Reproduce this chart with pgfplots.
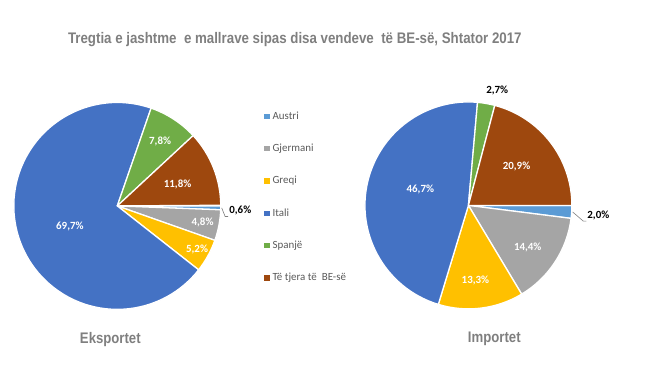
\documentclass[border=0pt]{standalone}
\usepackage{fontspec}
\setmainfont{Carlito}
\newfontfamily\arialf{Liberation Sans}
\usepackage{graphicx}
\usepackage{pgfplots}
\pgfplotsset{compat=1.18}
\usepackage{pgfplotstable}

\definecolor{cAustri}{HTML}{5B9BD5}
\definecolor{cGjer}{HTML}{A5A5A5}
\definecolor{cGreqi}{HTML}{FFC000}
\definecolor{cItali}{HTML}{4472C4}
\definecolor{cSpanje}{HTML}{70AD47}
\definecolor{cTjera}{HTML}{9E480E}
\definecolor{cTitle}{HTML}{7F7F7F}
\definecolor{cLegend}{HTML}{595959}
\definecolor{cLead}{HTML}{7F7F7F}

% val = share (%), lr = label radius (fraction of r), lo = label angle offset, lc = label colour, ld = leader line
\pgfplotstableread{
name val col lr lo lc ld
Austri 0.6 cAustri 1.19 -1.2 black 1
Gjermani 4.8 cGjer 0.84 -0.4 white 0
Greqi 5.2 cGreqi 0.88 0 white 0
Itali 69.7 cItali 0.50 7.2 white 0
Spanje 7.8 cSpanje 0.75 -0.4 white 0
Tjera 11.8 cTjera 0.62 -1.6 white 0
}\exporttab

\pgfplotstableread{
name val col lr lo lc ld
Austri 2.0 cAustri 1.26 -0.8 black 1
Gjermani 14.4 cGjer 0.70 -1.9 white 0
Greqi 13.3 cGreqi 0.73 -1.7 white 0
Itali 46.7 cItali 0.49 -7.4 white 0
Spanje 2.7 cSpanje 1.15 -4.1 black 0
Tjera 20.9 cTjera 0.60 1.6 white 0
}\importtab

\newcommand\getrow[2]{% row, table
  \pgfplotstablegetelem{#1}{val}\of{#2}\let\sv\pgfplotsretval
  \pgfplotstablegetelem{#1}{col}\of{#2}\let\sc\pgfplotsretval
  \pgfplotstablegetelem{#1}{lr}\of{#2}\let\slr\pgfplotsretval
  \pgfplotstablegetelem{#1}{lo}\of{#2}\let\slo\pgfplotsretval
  \pgfplotstablegetelem{#1}{lc}\of{#2}\let\slc\pgfplotsretval
  \pgfplotstablegetelem{#1}{ld}\of{#2}\let\sld\pgfplotsretval
}

\newcommand\drawpie[5]{% table, cx, cy, r, prefix
  \pgfplotstablegetrowsof{#1}%
  \pgfmathtruncatemacro\nrows{\pgfplotsretval-1}%
  \def\cum{0}%
  \pgfplotsforeachungrouped \i in {0,...,\nrows}{%
    \getrow{\i}{#1}%
    \pgfmathsetmacro\sa{-3.6*\cum}%
    \pgfmathsetmacro\ea{-3.6*(\cum+\sv)}%
    \pgfmathsetmacro\cum{\cum+\sv}%
    \edef\temp{\noexpand\fill[\sc, draw=white, line width=1.3pt, line join=round] (axis cs:#2,#3) -- ++(\sa:#4pt) arc[start angle=\sa, end angle=\ea, radius=#4pt] -- cycle;}%
    \temp
  }%
  \def\cum{0}%
  \pgfplotsforeachungrouped \i in {0,...,\nrows}{%
    \getrow{\i}{#1}%
    \pgfmathsetmacro\sa{-3.6*\cum}%
    \pgfmathsetmacro\ea{-3.6*(\cum+\sv)}%
    \pgfmathsetmacro\ma{(\sa+\ea)/2}%
    \pgfmathsetmacro\la{\ma+\slo}%
    \pgfmathsetmacro\lx{#2+\slr*#4*cos(\la)}%
    \pgfmathsetmacro\ly{#3-\slr*#4*sin(\la)}%
    \pgfmathsetmacro\sx{#2+(#4+1)*cos(\ma)}%
    \pgfmathsetmacro\sy{#3-(#4+1)*sin(\ma)}%
    \pgfmathsetmacro\cum{\cum+\sv}%
    \edef\temp{\noexpand\node[text=\slc, inner sep=1pt, font=\noexpand\fontsize{11}{13}\noexpand\selectfont\noexpand\bfseries] (lbl#5\i) at (axis cs:\lx,\ly) {\noexpand\pgfmathprintnumber[fixed, fixed zerofill, precision=1, use comma, assume math mode=true]{\sv}\noexpand\%};}%
    \temp
    \ifnum\sld=1
      \edef\temp{\noexpand\draw[cLead, line width=0.6pt] (axis cs:\sx,\sy) -- ([xshift=-3pt]lbl#5\i.south west) -- (lbl#5\i.south west);}%
      \temp
    \fi
  }%
}

\begin{document}
\begin{tikzpicture}
\begin{axis}[
  width=645pt, height=377pt, scale only axis,
  xmin=0, xmax=645, ymin=0, ymax=377, y dir=reverse,
  hide axis, clip=false,
  legend image code/.code={\fill[#1] (0pt,-2.7pt) rectangle (5.4pt,2.7pt);},
  legend cell align=left,
  legend style={at={(0.4062,0.7042)}, anchor=north west, draw=none, fill=none,
    font=\fontsize{11}{13}\selectfont, text=cLegend, inner sep=0pt,
    row sep=22pt,
    nodes={inner sep=0pt, text height=8pt, text depth=2.5pt},
    /tikz/every odd column/.append style={column sep=3pt}},
]
\path (axis cs:0,0) rectangle (axis cs:645,377);
\drawpie{\exporttab}{114.5}{207}{104}{E}
\drawpie{\importtab}{467.5}{206.5}{104}{I}

\addlegendimage{fill=cAustri, draw=none}
\addlegendimage{fill=cGjer, draw=none}
\addlegendimage{fill=cGreqi, draw=none}
\addlegendimage{fill=cItali, draw=none}
\addlegendimage{fill=cSpanje, draw=none}
\addlegendimage{fill=cTjera, draw=none}
\legend{Austri, Gjermani, Greqi, Itali, Spanjë, Të tjera të~ BE-së}

\node[text=cTitle, inner sep=0pt, font=\arialf\fontsize{15.4}{18}\selectfont\bfseries] at (axis cs:293,40)
  {\resizebox{456pt}{\height}{Tregtia e jashtme~ e mallrave sipas disa vendeve~ të BE-së, Shtator 2017}};
\node[text=cTitle, inner sep=0pt, font=\arialf\fontsize{15.4}{18}\selectfont\bfseries] at (axis cs:107.5,341)
  {\resizebox{61pt}{\height}{Eksportet}};
\node[text=cTitle, inner sep=0pt, font=\arialf\fontsize{15.4}{18}\selectfont\bfseries] at (axis cs:493.5,341)
  {\resizebox{53pt}{\height}{Importet}};
\end{axis}
\end{tikzpicture}
\end{document}
